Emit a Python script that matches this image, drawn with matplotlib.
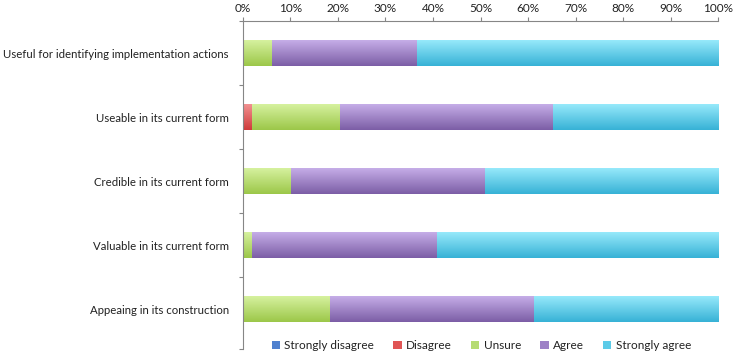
import numpy as np
import matplotlib
matplotlib.use("Agg")
import matplotlib.pyplot as plt
from matplotlib.colors import LinearSegmentedColormap
from matplotlib.patches import Patch

# survey statements, top to bottom
statements = [
    "Useful for identifying implementation actions",
    "Useable in its current form",
    "Credible in its current form",
    "Valuable in its current form",
    "Appeaing in its construction",
]

# percent of responses per answer
strongly_disagree = [0.0, 0.0, 0.0, 0.0, 0.0]
disagree          = [0.0, 2.0, 0.0, 0.0, 0.0]
unsure            = [6.1, 18.4, 10.2, 2.0, 18.4]
agree             = [30.6, 44.9, 40.8, 38.8, 42.9]
strongly_agree    = [63.3, 34.7, 49.0, 59.2, 38.8]

answers = ["Strongly disagree", "Disagree", "Unsure", "Agree", "Strongly agree"]
series = [strongly_disagree, disagree, unsure, agree, strongly_agree]

# (top, bottom) colour of the gradient, legend colour
colours = [
    ("#8fb4ec", "#3f6fc0", "#4f81cf"),
    ("#f39494", "#cf3b3b", "#e05555"),
    ("#d8f3a2", "#9cc749", "#b6dc72"),
    ("#c8b0ea", "#7c5ea6", "#9d80c6"),
    ("#9aebfc", "#37b2d6", "#5ccbe8"),
]

plt.rcParams["font.family"] = ["Lato", "DejaVu Sans"]

fig = plt.figure(figsize=(7.34, 3.52), dpi=100)
ax = fig.add_axes([0.3307, 0.0085, 0.648, 0.9318])

y = np.arange(len(statements))
left = np.zeros(len(statements))
bar_h = 0.41
for vals, (c_top, c_bot, c_leg) in zip(series, colours):
    vals = np.array(vals)
    bars = ax.barh(y, vals, left=left, height=bar_h, color=c_leg, linewidth=0)
    cmap = LinearSegmentedColormap.from_list("g", [c_top, c_bot])
    grad = np.linspace(0, 1, 64).reshape(-1, 1)
    for b in bars:
        x0, y0, w, h = b.get_x(), b.get_y(), b.get_width(), b.get_height()
        if w <= 0:
            continue
        im = ax.imshow(grad, extent=(x0, x0 + w, y0, y0 + h), origin="lower",
                       aspect="auto", cmap=cmap, zorder=2)
        im.set_clip_path(b)
    left += vals

ax.set_xlim(0, 100)
ax.set_ylim(4.625, -0.5)

ax.xaxis.tick_top()
ax.set_xticks(np.arange(0, 101, 10))
ax.set_xticklabels([f"{v}%" for v in range(0, 101, 10)])
ax.tick_params(axis="x", length=3, width=0.8, color="#868686", labelsize=8.5,
               labelcolor="#222222", pad=2)

ax.set_yticks(y)
ax.set_yticklabels(statements)
ax.set_yticks([-0.5, 0.5, 1.5, 2.5, 3.5, 4.625], minor=True)
ax.tick_params(axis="y", which="major", length=0, labelsize=8.2,
               labelcolor="#222222", pad=10)
ax.tick_params(axis="y", which="minor", length=3, width=0.8, color="#868686")

for s in ["right", "bottom"]:
    ax.spines[s].set_visible(False)
for s in ["top", "left"]:
    ax.spines[s].set_color("#868686")
    ax.spines[s].set_linewidth(0.8)

handles = [Patch(facecolor=c[2], edgecolor="none") for c in colours]
fig.legend(handles, answers, loc="center", bbox_to_anchor=(0.656, 0.018),
           ncol=5, frameon=False, fontsize=8.5, handlelength=0.7,
           handleheight=0.7, handletextpad=0.4, columnspacing=1.6,
           labelcolor="#222222")

fig.savefig("out.png", dpi=100)
